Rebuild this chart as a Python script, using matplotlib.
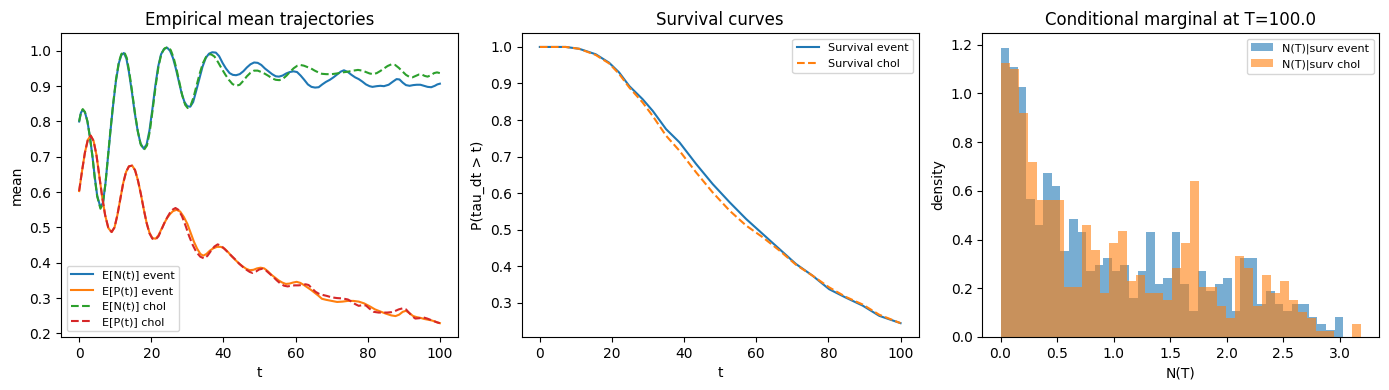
import numpy as np
import matplotlib
matplotlib.use("Agg")
import matplotlib.pyplot as plt

# --- panel 1: empirical mean trajectories
t_n_event = [0, 0.5, 1.0, 1.6, 2.3, 3.0, 3.7, 4.3, 5.0, 5.9, 6.6, 7.3, 8.0, 8.7, 9.4, 10.2, 11.0,
             11.7, 12.4, 13.1, 13.8, 14.6, 15.4, 16.2, 17.0, 17.9, 18.7, 19.5, 20.3, 21.1, 21.9,
             22.7, 23.5, 24.4, 25.2, 26.0, 26.8, 27.6, 28.4, 29.2, 30.0, 30.8, 31.6, 32.4, 33.3,
             34.2, 35.1, 36.0, 36.9, 37.9, 38.8, 39.8, 40.7, 41.7, 42.6, 43.5, 44.5, 45.5, 46.5,
             47.5, 48.5, 49.5, 50.5, 51.5, 52.5, 53.5, 54.5, 55.4, 56.4, 57.4, 58.4, 59.4, 60.4,
             61.4, 62.4, 63.4, 64.4, 65.4, 66.4, 67.4, 68.4, 69.5, 70.5, 71.5, 72.5, 73.4, 74.5,
             75.5, 76.5, 77.5, 78.5, 79.5, 80.5, 81.3, 82.5, 83.5, 84.5, 85.8, 87.0, 88.0, 88.8,
             89.7, 90.6, 91.6, 92.6, 93.6, 94.6, 95.6, 96.6, 97.6, 98.6, 99.3, 100]
n_event = [0.800, 0.825, 0.833, 0.826, 0.800, 0.755, 0.700, 0.645, 0.590, 0.557, 0.570, 0.625,
           0.700, 0.775, 0.845, 0.915, 0.965, 0.988, 0.994, 0.978, 0.940, 0.885, 0.825, 0.775,
           0.738, 0.723, 0.735, 0.775, 0.835, 0.900, 0.955, 0.990, 1.005, 1.009, 1.000, 0.980,
           0.950, 0.915, 0.880, 0.855, 0.843, 0.842, 0.855, 0.885, 0.920, 0.955, 0.980, 0.992,
           0.996, 0.995, 0.985, 0.965, 0.950, 0.937, 0.932, 0.931, 0.934, 0.942, 0.953, 0.962,
           0.967, 0.966, 0.960, 0.950, 0.942, 0.934, 0.928, 0.927, 0.930, 0.936, 0.940, 0.942,
           0.940, 0.930, 0.918, 0.905, 0.898, 0.896, 0.897, 0.905, 0.912, 0.918, 0.925, 0.933,
           0.941, 0.945, 0.940, 0.932, 0.925, 0.920, 0.913, 0.905, 0.900, 0.898, 0.900, 0.901,
           0.900, 0.904, 0.913, 0.920, 0.919, 0.910, 0.903, 0.901, 0.903, 0.904, 0.904, 0.901,
           0.898, 0.897, 0.901, 0.905, 0.907]

t_p_event = [0, 0.8, 1.6, 2.4, 3.2, 4.0, 4.8, 5.6, 6.4, 7.2, 8.1, 9.0, 9.8, 10.6, 11.4, 12.2, 13.0,
             13.8, 14.7, 15.5, 16.3, 17.1, 17.9, 18.7, 19.5, 20.3, 21.2, 22.0, 22.8, 23.6, 24.4,
             25.2, 26.0, 27.0, 28.0, 29.0, 30.0, 30.9, 31.8, 32.7, 33.6, 34.4, 35.3, 36.2, 37.2,
             38.2, 39.3, 40.3, 41.3, 42.3, 43.3, 44.3, 45.3, 46.3, 47.3, 48.3, 49.3, 50.3, 51.3,
             52.3, 53.3, 54.3, 55.3, 56.3, 57.3, 58.3, 59.3, 60.3, 61.3, 62.3, 63.3, 64.3, 65.3,
             66.3, 67.3, 68.5, 70.0, 71.5, 73.0, 74.5, 76.0, 77.5, 79.0, 80.5, 82.0, 83.5, 85.0,
             86.5, 87.7, 88.7, 89.7, 90.6, 91.6, 92.6, 93.6, 94.6, 95.6, 96.6, 97.6, 98.6, 99.3, 100]
p_event = [0.603, 0.660, 0.712, 0.748, 0.760, 0.745, 0.705, 0.645, 0.585, 0.535, 0.498, 0.487,
           0.500, 0.535, 0.580, 0.625, 0.657, 0.673, 0.675, 0.662, 0.633, 0.595, 0.552, 0.513,
           0.485, 0.470, 0.468, 0.478, 0.495, 0.512, 0.527, 0.538, 0.546, 0.550, 0.545, 0.530,
           0.510, 0.485, 0.460, 0.440, 0.425, 0.420, 0.425, 0.434, 0.441, 0.445, 0.445, 0.440,
           0.430, 0.418, 0.408, 0.398, 0.390, 0.383, 0.379, 0.380, 0.384, 0.386, 0.384, 0.376,
           0.366, 0.358, 0.350, 0.344, 0.340, 0.341, 0.344, 0.346, 0.343, 0.337, 0.330, 0.323,
           0.315, 0.307, 0.298, 0.295, 0.292, 0.289, 0.290, 0.292, 0.292, 0.290, 0.285, 0.277,
           0.268, 0.262, 0.256, 0.251, 0.249, 0.253, 0.261, 0.264, 0.257, 0.249, 0.246, 0.244,
           0.241, 0.239, 0.237, 0.234, 0.231, 0.229]

t_n_chol = [0, 0.5, 1.0, 1.6, 2.3, 3.0, 3.7, 4.3, 5.0, 5.9, 6.6, 7.3, 8.0, 8.7, 9.4, 10.2, 11.0,
            11.7, 12.5, 13.2, 13.9, 14.7, 15.5, 16.3, 17.1, 18.0, 18.8, 19.6, 20.4, 21.2, 22.0,
            22.8, 23.7, 24.6, 25.4, 26.2, 27.0, 27.8, 28.6, 29.4, 30.1, 30.9, 31.7, 32.5, 33.4,
            34.3, 35.2, 36.0, 36.6, 37.5, 38.5, 39.5, 40.5, 41.5, 42.5, 43.5, 44.5, 45.5, 46.5,
            47.5, 48.5, 49.5, 50.5, 51.5, 52.5, 53.5, 54.5, 55.5, 56.5, 57.5, 58.5, 59.5, 60.5,
            61.3, 62.3, 63.3, 64.3, 65.3, 66.3, 67.3, 68.5, 70.0, 71.5, 73.0, 74.5, 76.0, 77.3,
            78.5, 79.5, 80.5, 81.5, 82.5, 83.5, 84.5, 85.5, 86.6, 87.6, 88.6, 89.6, 90.6, 91.6,
            92.4, 93.3, 94.2, 95.0, 95.8, 96.6, 97.5, 98.4, 99.2, 100]
n_chol = [0.800, 0.826, 0.835, 0.827, 0.800, 0.755, 0.700, 0.642, 0.588, 0.553, 0.568, 0.625,
          0.702, 0.778, 0.848, 0.918, 0.968, 0.991, 0.997, 0.980, 0.940, 0.883, 0.822, 0.770,
          0.734, 0.720, 0.732, 0.773, 0.835, 0.900, 0.956, 0.992, 1.007, 1.011, 1.002, 0.980,
          0.948, 0.910, 0.873, 0.847, 0.838, 0.845, 0.868, 0.900, 0.935, 0.965, 0.983, 0.990,
          0.990, 0.984, 0.968, 0.950, 0.933, 0.918, 0.906, 0.901, 0.904, 0.915, 0.928, 0.938,
          0.944, 0.944, 0.940, 0.935, 0.929, 0.922, 0.918, 0.917, 0.921, 0.930, 0.941, 0.951,
          0.958, 0.960, 0.958, 0.954, 0.950, 0.944, 0.939, 0.935, 0.934, 0.934, 0.936, 0.939,
          0.941, 0.944, 0.946, 0.944, 0.940, 0.936, 0.934, 0.937, 0.943, 0.950, 0.957, 0.962,
          0.960, 0.952, 0.942, 0.932, 0.926, 0.925, 0.929, 0.933, 0.933, 0.929, 0.927, 0.931,
          0.937, 0.939, 0.937]

t_p_chol = [0, 0.8, 1.6, 2.4, 3.2, 4.0, 4.8, 5.6, 6.4, 7.2, 8.1, 9.0, 9.8, 10.6, 11.4, 12.2, 13.0,
            13.8, 14.7, 15.5, 16.3, 17.1, 17.9, 18.7, 19.5, 20.3, 21.2, 22.0, 22.8, 23.6, 24.4,
            25.2, 26.0, 26.7, 27.5, 28.5, 29.5, 30.5, 31.5, 32.5, 33.6, 34.7, 35.6, 36.5, 37.5,
            38.4, 39.4, 40.4, 41.4, 42.4, 43.4, 44.4, 45.4, 46.4, 47.3, 48.1, 49.0, 49.9, 50.8,
            51.8, 52.8, 53.8, 54.8, 55.8, 56.8, 57.8, 58.8, 59.8, 60.8, 61.8, 62.8, 63.6, 64.5,
            65.5, 66.5, 67.5, 68.7, 70.0, 71.5, 73.0, 74.5, 75.5, 76.5, 77.5, 78.5, 79.5, 80.5,
            81.7, 83.0, 84.2, 85.4, 86.5, 87.5, 88.6, 89.7, 90.6, 91.5, 92.4, 93.2, 94.3, 95.5,
            96.5, 97.5, 98.5, 99.3, 100]
p_chol = [0.603, 0.660, 0.712, 0.748, 0.760, 0.745, 0.705, 0.645, 0.585, 0.535, 0.498, 0.487,
          0.500, 0.535, 0.580, 0.625, 0.657, 0.673, 0.675, 0.662, 0.633, 0.595, 0.552, 0.513,
          0.483, 0.468, 0.466, 0.475, 0.493, 0.512, 0.528, 0.542, 0.551, 0.555, 0.550, 0.532,
          0.505, 0.475, 0.450, 0.430, 0.417, 0.412, 0.420, 0.433, 0.446, 0.452, 0.448, 0.438,
          0.428, 0.418, 0.408, 0.397, 0.388, 0.380, 0.374, 0.371, 0.375, 0.381, 0.383, 0.378,
          0.369, 0.360, 0.350, 0.341, 0.335, 0.333, 0.335, 0.336, 0.336, 0.337, 0.339, 0.337,
          0.328, 0.318, 0.312, 0.309, 0.306, 0.302, 0.300, 0.299, 0.296, 0.290, 0.283, 0.278,
          0.280, 0.279, 0.270, 0.261, 0.259, 0.259, 0.259, 0.260, 0.263, 0.268, 0.271, 0.268,
          0.258, 0.248, 0.242, 0.243, 0.245, 0.242, 0.238, 0.234, 0.231, 0.229]

# --- panel 2: survival curves
t_surv = [0, 7.2, 10.9, 15.5, 19.2, 22, 24.8, 28.5, 31.3, 35, 38.7, 43.3, 47.9, 52.6, 57.2, 61.8,
          66.4, 71, 75.6, 80.2, 84.8, 89.5, 94.1, 100]
surv_event = [1.0, 1.0, 0.995, 0.980, 0.957, 0.930, 0.893, 0.857, 0.825, 0.775, 0.739, 0.68,
              0.625, 0.575, 0.529, 0.488, 0.447, 0.406, 0.374, 0.337, 0.314, 0.292, 0.264, 0.244]
surv_chol = [1.0, 1.0, 0.995, 0.978, 0.955, 0.926, 0.889, 0.848, 0.811, 0.757, 0.716, 0.657,
             0.602, 0.552, 0.511, 0.479, 0.443, 0.404, 0.374, 0.342, 0.316, 0.295, 0.267, 0.244]

# --- panel 3: histogram counts of N(T) given survival (40 bins each)
range_event = (0.0, 3.03)
counts_event = [44, 41, 38, 21, 17, 25, 23, 13, 18, 16, 10, 11, 12, 10, 11, 6, 10, 16, 8, 9,
                16, 8, 4, 10, 7, 8, 9, 4, 12, 12, 5, 7, 5, 4, 5, 5, 3, 2, 1, 3]
range_chol = (0.0, 3.19)
counts_chol = [44, 43, 36, 28, 22, 22, 22, 8, 8, 18, 14, 7, 15, 17, 9, 10, 7, 7, 6, 11,
               15, 25, 8, 8, 5, 3, 13, 11, 5, 10, 7, 9, 6, 4, 3, 1, 1, 0, 0, 2]
n_bins = 40

fig, axes = plt.subplots(1, 3, figsize=(13.89, 3.9), dpi=100)
fig.subplots_adjust(left=0.044, right=0.993, bottom=0.136, top=0.915, wspace=0.161)

ax = axes[0]
ax.plot(t_n_event, n_event, color="C0", label="E[N(t)] event")
ax.plot(t_p_event, p_event, color="C1", label="E[P(t)] event")
ax.plot(t_n_chol, n_chol, "--", color="C2", label="E[N(t)] chol")
ax.plot(t_p_chol, p_chol, "--", color="C3", label="E[P(t)] chol")
ax.set_title("Empirical mean trajectories")
ax.set_xlabel("t")
ax.set_ylabel("mean")
ax.legend(fontsize=8, loc="lower left")

ax = axes[1]
ax.plot(t_surv, surv_event, color="C0", label="Survival event")
ax.plot(t_surv, surv_chol, "--", color="C1", label="Survival chol")
ax.set_title("Survival curves")
ax.set_xlabel("t")
ax.set_ylabel("P(tau_dt > t)")
ax.legend(fontsize=8)

ax = axes[2]
edges_e = np.linspace(range_event[0], range_event[1], n_bins + 1)
edges_c = np.linspace(range_chol[0], range_chol[1], n_bins + 1)
ax.hist((edges_e[:-1] + edges_e[1:]) / 2, bins=edges_e, weights=counts_event,
        density=True, alpha=0.6, label="N(T)|surv event")
ax.hist((edges_c[:-1] + edges_c[1:]) / 2, bins=edges_c, weights=counts_chol,
        density=True, alpha=0.6, label="N(T)|surv chol")
ax.set_title("Conditional marginal at T=100.0")
ax.set_xlabel("N(T)")
ax.set_ylabel("density")
ax.legend(fontsize=8)

fig.savefig("out.png")
